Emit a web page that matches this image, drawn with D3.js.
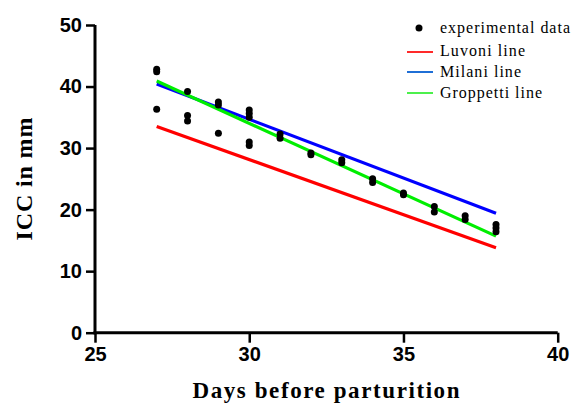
<!DOCTYPE html>
<html><head><meta charset="utf-8">
<script src="https://cdn.jsdelivr.net/npm/d3@7"></script>
<style>html,body{margin:0;padding:0;background:#fff;}svg{display:block;}</style>
</head><body>
<svg id="chart" width="573" height="405"></svg>
<script>
// Data
const days = [27,27,27,28,28,28,29,29,29,30,30,30,30,30,31,31,32,32,33,33,34,34,35,35,36,36,37,37,38,38,38];
const icc  = [42.8,42.4,36.3,39.2,35.3,34.4,37.5,37.0,32.4,36.2,35.6,35.0,31.0,30.4,32.3,31.6,29.2,28.9,28.1,27.6,25.0,24.4,22.7,22.4,20.5,19.6,19.0,18.4,17.6,17.0,16.4];
const lineX = [27, 38];
const luvoni = [33.5, 13.8];
const milani = [40.4, 19.4];
const groppetti = [40.9, 15.7];
const xTicks = [25,30,35,40];
const yTicks = [0,10,20,30,40,50];
const legendLabels = ["experimental data","Luvoni line","Milani line","Groppetti line"];

const svg = d3.select("#chart");
const x = d3.scaleLinear().domain([25,40]).range([95,557.7]);
const y = d3.scaleLinear().domain([0,50]).range([332.7,25]);

// Axes
const xAxis = svg.append("g").attr("transform",`translate(0,${y(0)})`)
  .call(d3.axisBottom(x).tickValues(xTicks).tickSize(10).tickPadding(4).tickSizeOuter(0));
const yAxis = svg.append("g").attr("transform",`translate(${x(25)},0)`)
  .call(d3.axisLeft(y).tickValues(yTicks).tickSize(9).tickPadding(4).tickSizeOuter(0));
[xAxis,yAxis].forEach(g=>{
  g.select(".domain").attr("stroke","#000").attr("stroke-width",3);
  g.selectAll(".tick line").attr("stroke","#000").attr("stroke-width",2.5);
  g.selectAll(".tick text").attr("fill","#000")
    .style("font-family","'Liberation Sans', Arial, sans-serif")
    .style("font-weight","bold").style("font-size","20px");
});
xAxis.select(".domain").attr("d",`M${x(25)-1.5},0H${x(40)}`);
yAxis.select(".domain").attr("d",`M0,${y(0)+1.5}V${y(50)}`);

// Lines
const lineGen = d3.line().x(d=>x(d[0])).y(d=>y(d[1]));
const series = [
  {vals: luvoni, color:"#ff0000"},
  {vals: milani, color:"#0000ff"},
  {vals: groppetti, color:"#00ee00"}
];
series.forEach(s=>{
  svg.append("path").datum(lineX.map((d,i)=>[d,s.vals[i]]))
    .attr("d",lineGen).attr("fill","none").attr("stroke",s.color).attr("stroke-width",3.2);
});

// Points
svg.append("g").selectAll("circle").data(days.map((d,i)=>[d,icc[i]])).join("circle")
  .attr("cx",d=>x(d[0])).attr("cy",d=>y(d[1])).attr("r",3.5).attr("fill","#000");

// Axis titles
svg.append("text").attr("x",326).attr("y",398).attr("text-anchor","middle")
  .style("font-family","'Liberation Serif','Times New Roman',serif").style("font-weight","bold")
  .style("font-size","23px").attr("textLength",267).attr("lengthAdjust","spacing")
  .text("Days before parturition");
svg.append("text").attr("transform","translate(32,179) rotate(-90)").attr("text-anchor","middle")
  .style("font-family","'Liberation Serif','Times New Roman',serif").style("font-weight","bold")
  .style("font-size","24px").attr("textLength",123).attr("lengthAdjust","spacing")
  .text("ICC in mm");

// Legend
const leg = svg.append("g");
const legColors = ["#000","#ff2a2a","#1f6fd6","#4cf04c"];
const legY = [28,52,72,93];
const legBase = [33,56,77,98];
const legLen = [130,85,81,102];
legendLabels.forEach((lab,i)=>{
  if(i===0){
    leg.append("circle").attr("cx",419).attr("cy",legY[i]).attr("r",3.5).attr("fill","#000");
  } else {
    leg.append("line").attr("x1",407).attr("x2",433).attr("y1",legY[i]).attr("y2",legY[i])
      .attr("stroke",legColors[i]).attr("stroke-width",2);
  }
  leg.append("text").attr("x",440).attr("y",legBase[i])
    .style("font-family","'Liberation Serif','Times New Roman',serif").style("font-size","16px")
    .attr("textLength",legLen[i]).attr("lengthAdjust","spacing").attr("fill","#000")
    .text(lab);
});
</script>
</body></html>
